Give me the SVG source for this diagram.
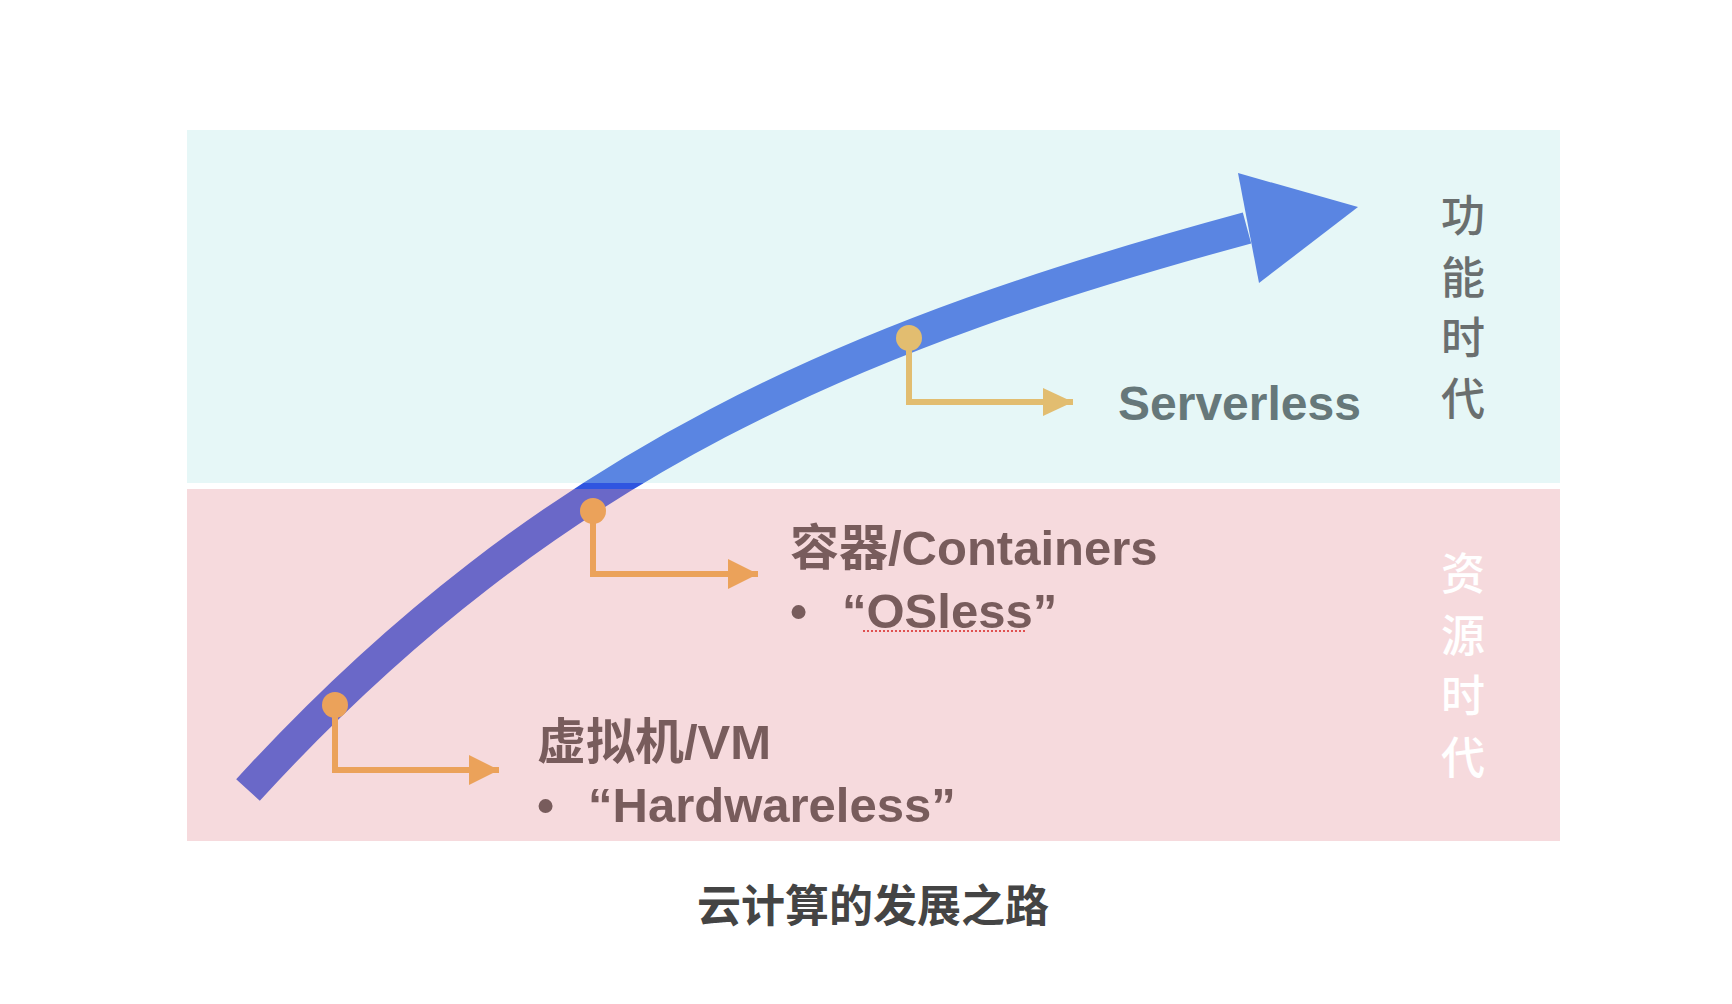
<svg xmlns="http://www.w3.org/2000/svg" width="1732" height="1004" viewBox="0 0 1732 1004">
<style>
.band-cyan{fill:#b3e7e7;fill-opacity:0.33}
.band-pink{fill:#e48f98;fill-opacity:0.33}
.lbl{font-family:"Liberation Sans","Noto Sans CJK SC",Arial,sans-serif;font-weight:bold;font-size:49px;fill:#785c5c}
.srv{font-family:"Liberation Sans","Noto Sans CJK SC",Arial,sans-serif;font-weight:bold;font-size:48px;fill:#66787a}
.era{font-family:"Noto Sans CJK SC",sans-serif;font-weight:500;font-size:44px;text-anchor:middle}
.cap{font-family:"Noto Sans CJK SC",sans-serif;font-weight:bold;font-size:44px;fill:#444444;text-anchor:middle}
.conn-o{fill:none;stroke:#eba25a;stroke-width:6}
.conn-y{fill:none;stroke:#e2bd70;stroke-width:6}
</style>
<defs>
<marker id="head-o" markerUnits="userSpaceOnUse" markerWidth="30" markerHeight="30" refX="30" refY="15" orient="auto" viewBox="0 0 30 30">
<path d="M0,0 L30,15 L0,30 Z" fill="#eba25a"/>
</marker>
<marker id="head-y" markerUnits="userSpaceOnUse" markerWidth="30" markerHeight="28" refX="30" refY="14" orient="auto" viewBox="0 0 30 28">
<path d="M0,0 L30,14 L0,28 Z" fill="#e2bd70"/>
</marker>
</defs>
<rect width="1732" height="1004" fill="#ffffff"/>
<g id="main-arrow">
<path d="M248,790 C552,457 864,332 1247,228" fill="none" stroke="#2f55e0" stroke-width="32"/>
<polygon points="1238,173 1358,207 1259,283" fill="#2f55e0"/>
</g>
<g id="band-function">
<rect class="band-cyan" x="187" y="130" width="1373" height="353"/>
</g>
<g id="band-resource">
<rect class="band-pink" x="187" y="489" width="1373" height="352"/>
</g>
<g id="connectors">
<path class="conn-o" d="M335,705 V770 H499" marker-end="url(#head-o)"/>
<path class="conn-o" d="M593,511 V574 H758" marker-end="url(#head-o)"/>
<path class="conn-y" d="M909,338 V402 H1073" marker-end="url(#head-y)"/>
<circle cx="335" cy="705" r="13" fill="#eba25a"/>
<circle cx="593" cy="511" r="13" fill="#eba25a"/>
<circle cx="909" cy="338" r="13" fill="#e2bd70"/>
</g>
<g id="node-vm">
<text class="lbl" x="537" y="759">虚拟机/VM</text>
<text class="lbl" x="537" y="822">•</text>
<text class="lbl" x="588" y="822">“Hardwareless”</text>
</g>
<g id="node-containers">
<text class="lbl" x="790" y="565">容器/Containers</text>
<text class="lbl" x="790" y="628">•</text>
<text class="lbl" x="842" y="628">“OSless”</text>
<line x1="863" y1="631" x2="1027" y2="631" stroke="#e05050" stroke-width="2" stroke-dasharray="2 2"/>
</g>
<g id="node-serverless">
<text class="srv" x="1118" y="420">Serverless</text>
</g>
<g id="label-function-era">
<text class="era" fill="#6a6f6f" x="1463"><tspan x="1463" y="232">功</tspan><tspan x="1463" y="294">能</tspan><tspan x="1463" y="354">时</tspan><tspan x="1463" y="415">代</tspan></text>
</g>
<g id="label-resource-era">
<text class="era" fill="#ffffff" x="1463"><tspan x="1463" y="590">资</tspan><tspan x="1463" y="652">源</tspan><tspan x="1463" y="712">时</tspan><tspan x="1463" y="774">代</tspan></text>
</g>
<g id="caption">
<text class="cap" x="873" y="922">云计算的发展之路</text>
</g>
</svg>
